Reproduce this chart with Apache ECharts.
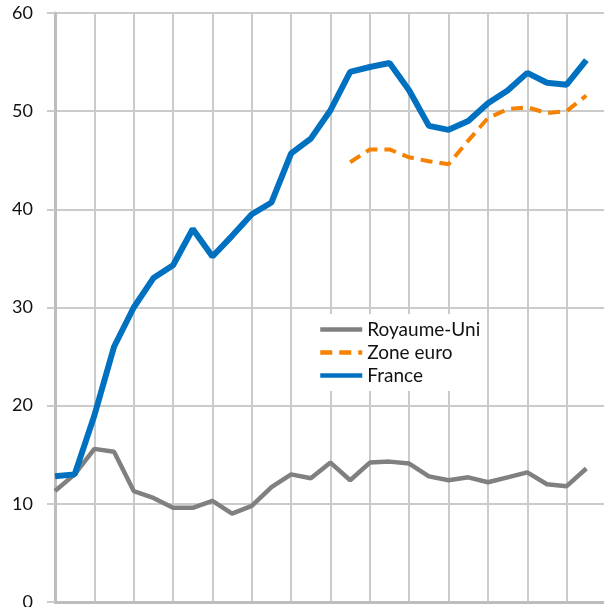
<!DOCTYPE html>
<html>
<head>
<meta charset="utf-8">
<script src="https://cdn.jsdelivr.net/npm/echarts@6/dist/echarts.min.js"></script>
<style>
  html, body { margin: 0; padding: 0; background: #fff; }
  #chart { width: 604px; height: 607px; }
</style>
</head>
<body>
<div id="chart"></div>
<script>
// years on the x axis (labels are not shown on the chart)
const years = [];
for (let y = 1990; y <= 2018; y++) years.push(String(y));

const royaumeUni = [11.3, 13.0, 15.6, 15.3, 11.3, 10.6, 9.6, 9.6, 10.3, 9.0, 9.8, 11.7, 13.0, 12.6,
  14.2, 12.4, 14.2, 14.3, 14.1, 12.8, 12.4, 12.7, 12.2, 12.7, 13.2, 12.0, 11.8, 13.6];

const zoneEuro = [null, null, null, null, null, null, null, null, null, null, null, null, null, null,
  null, 44.8, 46.1, 46.1, 45.3, 44.9, 44.6, 47.0, 49.3, 50.2, 50.4, 49.8, 50.0, 51.6];

const france = [12.8, 13.0, 19.0, 26.0, 30.0, 33.0, 34.3, 38.0, 35.2, 37.3, 39.5, 40.7, 45.7, 47.2,
  50.1, 54.0, 54.5, 54.9, 52.1, 48.5, 48.1, 49.0, 50.8, 52.1, 53.9, 52.9, 52.7, 55.2];

const chart = echarts.init(document.getElementById('chart'));

chart.setOption({
  animation: false,
  textStyle: { fontFamily: 'Lato' },
  grid: { left: 55, right: -2, top: 13, bottom: 5, outerBoundsMode: 'none' },
  legend: {
    orient: 'vertical',
    left: 316,
    top: 314,
    padding: [6, 4, 6, 2],
    backgroundColor: '#fff',
    itemWidth: 42,
    itemHeight: 14,
    itemGap: 4,
    itemStyle: { opacity: 0 },
    lineStyle: { width: 4.5 },
    textStyle: { fontSize: 19, color: '#111', fontFamily: 'Lato', lineHeight: 19 },
    data: ['Royaume-Uni', 'Zone euro', 'France']
  },
  xAxis: {
    type: 'category',
    data: years,
    boundaryGap: false,
    axisLine: { lineStyle: { color: '#bdbdbd', width: 3 } },
    axisTick: { show: false },
    axisLabel: { show: false },
    splitLine: { show: true, interval: 1, lineStyle: { color: '#cbcbcb', width: 2 } }
  },
  yAxis: {
    type: 'value',
    min: 0,
    max: 60,
    interval: 10,
    axisLine: { show: true, lineStyle: { color: '#bdbdbd', width: 3 } },
    axisTick: { show: true, length: 8, lineStyle: { color: '#cbcbcb', width: 2 } },
    axisLabel: { fontSize: 18, color: '#111', margin: 22 },
    splitLine: { lineStyle: { color: '#cbcbcb', width: 2 } }
  },
  series: [
    {
      name: 'Royaume-Uni',
      type: 'line',
      data: royaumeUni,
      symbol: 'none',
      color: '#808080',
      lineStyle: { width: 4.5, color: '#808080' },
      z: 3
    },
    {
      name: 'Zone euro',
      type: 'line',
      data: zoneEuro,
      symbol: 'none',
      color: '#f58200',
      lineStyle: { width: 4, color: '#f58200', type: [12, 7] },
      z: 4
    },
    {
      name: 'France',
      type: 'line',
      data: france,
      symbol: 'none',
      color: '#0070c0',
      lineStyle: { width: 6, color: '#0070c0' },
      z: 5
    }
  ]
});
</script>
</body>
</html>
